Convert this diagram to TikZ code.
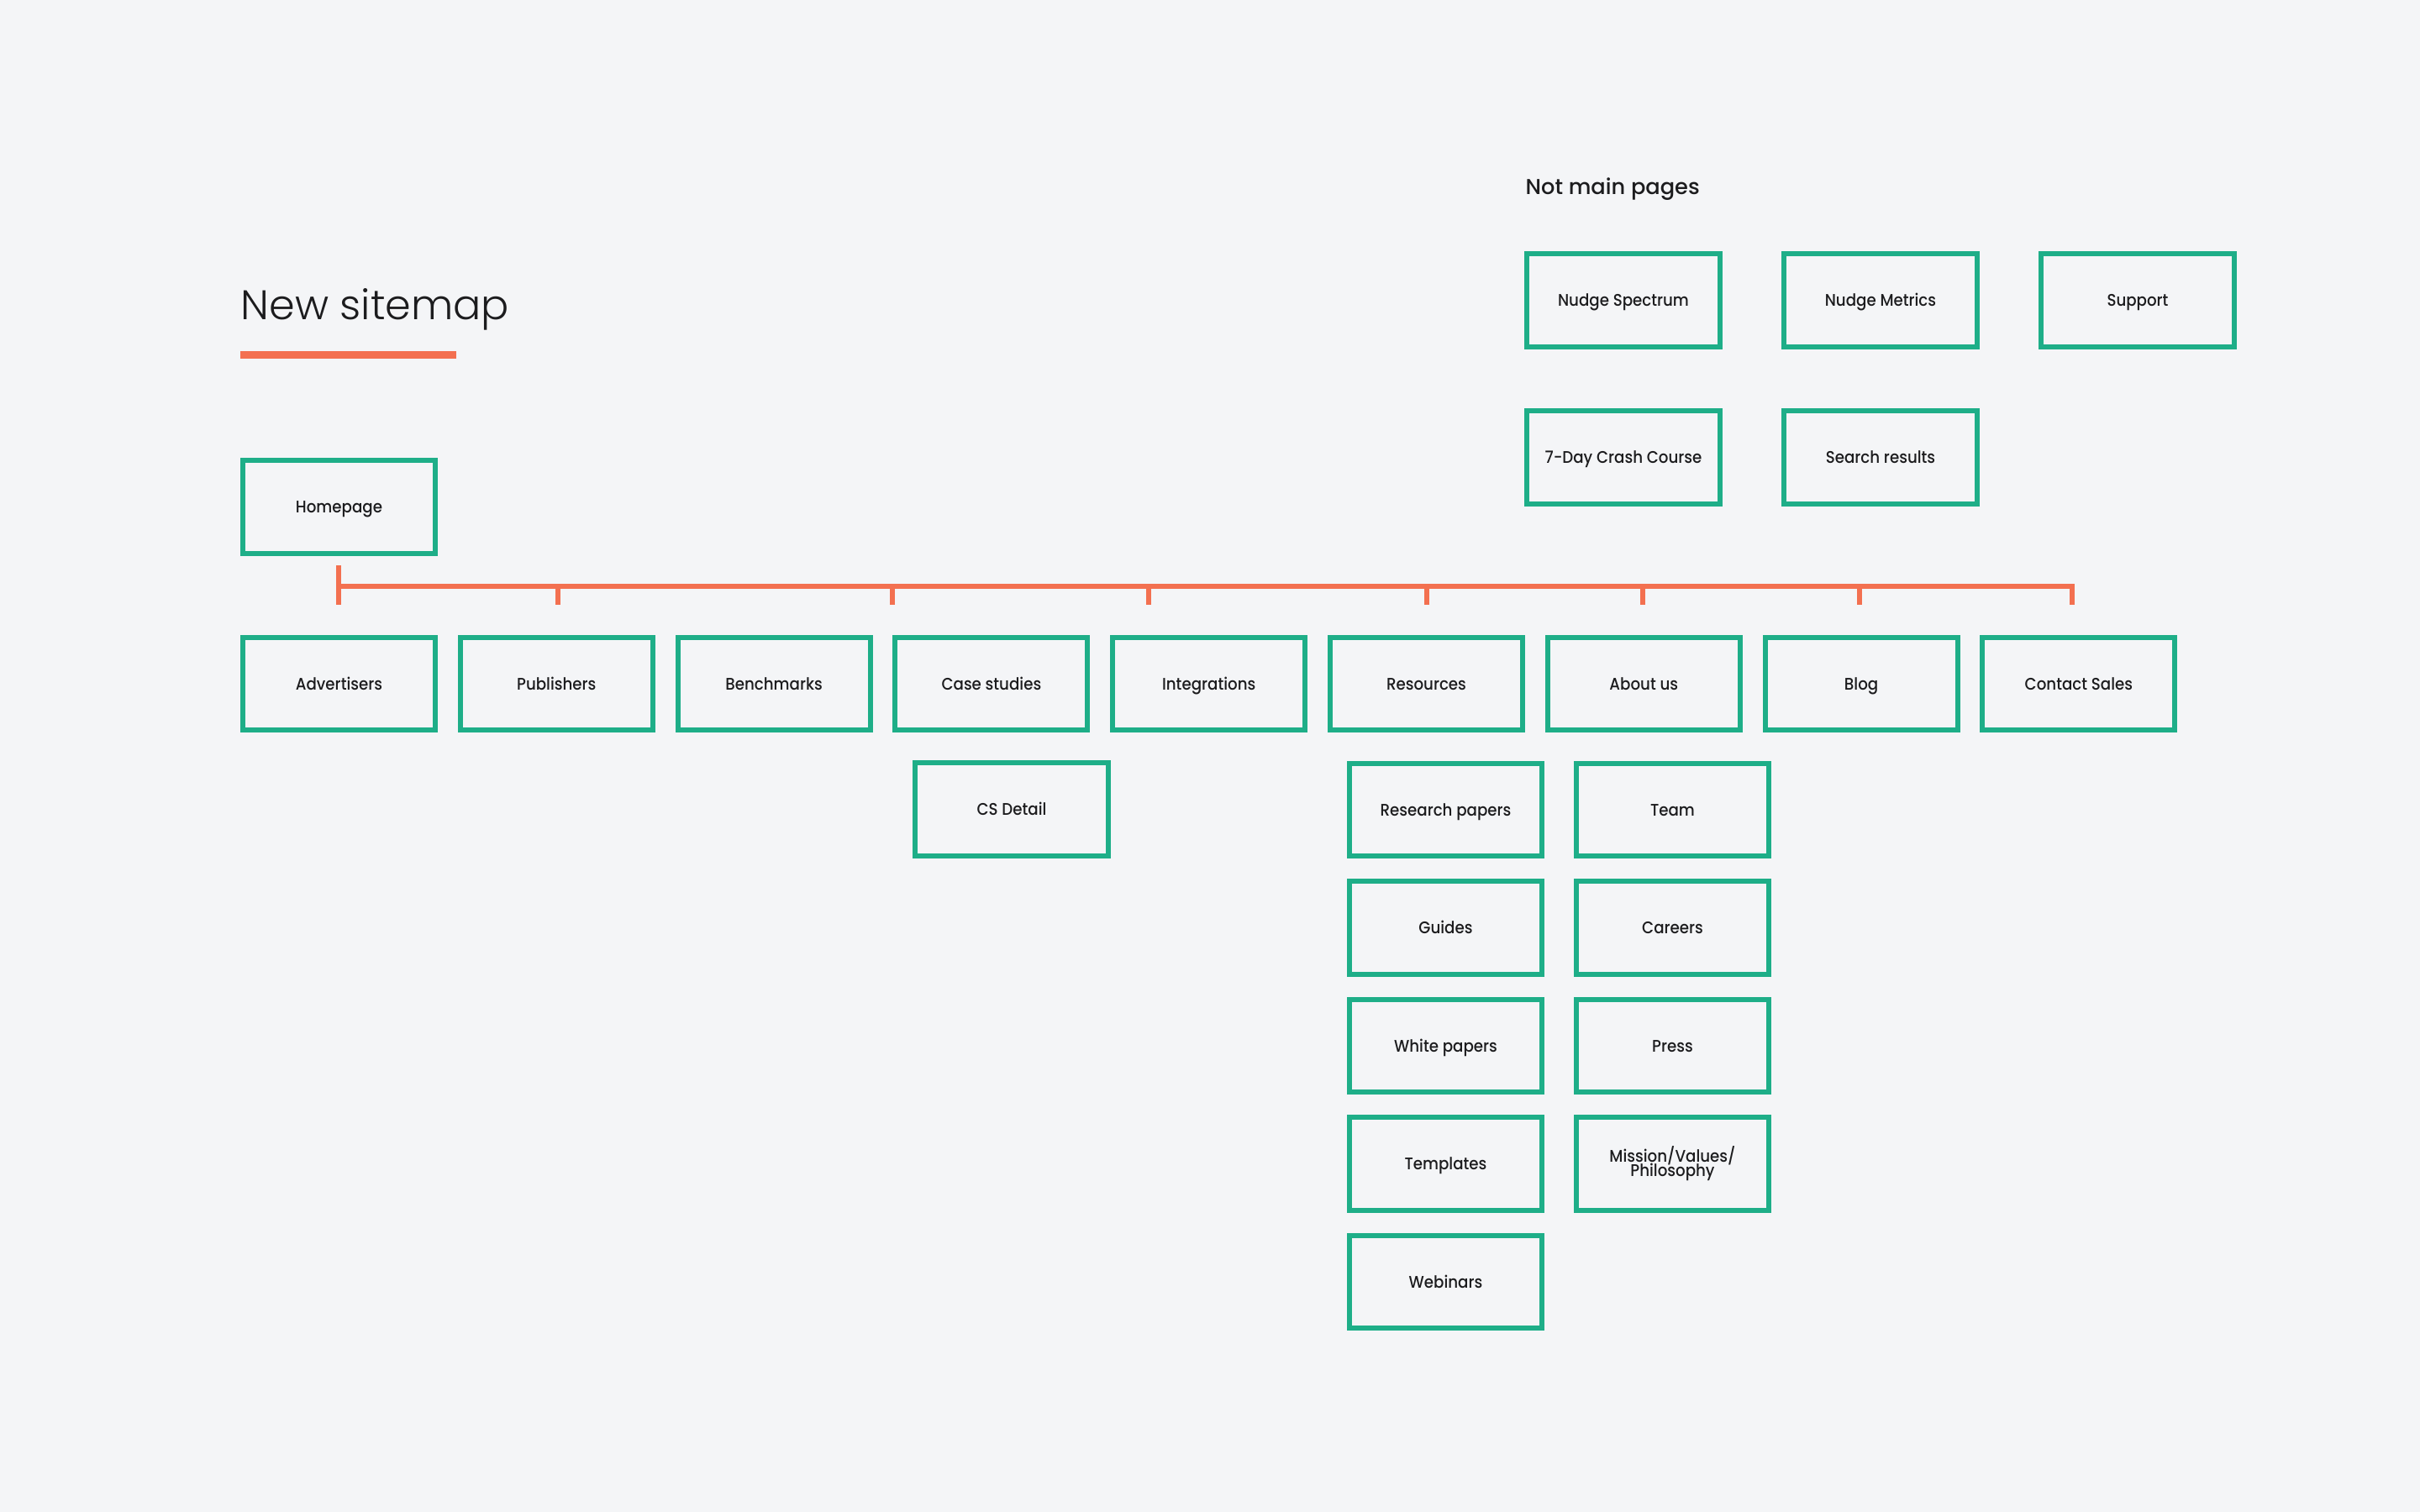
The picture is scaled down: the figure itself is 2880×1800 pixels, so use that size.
\documentclass[tikz,border=0pt]{standalone}
\usepackage{fontspec}
\setmainfont{Poppins}[UprightFont=* Medium]
\newfontfamily\titlefont{Poppins}[UprightFont=* Light]
\newfontfamily\boxfont{Poppins}[UprightFont=* Medium, FakeStretch=0.91]
\definecolor{sitegreen}{RGB}{30,174,136}
\definecolor{siteorange}{RGB}{243,112,80}
\definecolor{bgcol}{RGB}{244,245,247}
\definecolor{ink}{RGB}{28,28,30}
\lineskiplimit=-5pt
\begin{document}
\begin{tikzpicture}[x=0.01cm,y=-0.01cm,
  page/.style={draw=sitegreen, line width=1.7pt, fill=bgcol, text=ink,
    minimum width=2.29cm, minimum height=1.10cm, inner sep=0pt, align=center,
    font=\boxfont\fontsize{5.7}{4.85}\selectfont},
  oneline/.style={page, text height=4pt, text depth=0pt},
  bar/.style={draw=siteorange, line width=1.7pt}]
\fill[bgcol] (0,0) rectangle (2880,1800);
% headings
\node[anchor=base west, inner sep=0pt, text=ink,
  font=\titlefont\fontsize{14}{16}\selectfont] (title) at (286,380) {New sitemap};
\fill[siteorange] (286,418) rectangle (543,427);
\node[anchor=base west, inner sep=0pt, text=ink,
  font=\fontsize{7.3}{8}\selectfont] (other) at (1815,231.7) {Not main pages};
% not main pages
\node[oneline] (spectrum) at (1932,357.5) {Nudge Spectrum};
\node[oneline] (metrics) at (2238,357.5) {Nudge Metrics};
\node[oneline] (support) at (2544,357.5) {Support};
\node[oneline] (crash) at (1932,544.5) {7-Day Crash Course};
\node[oneline] (search) at (2238,544.5) {Search results};
% main tree
\node[oneline] (home) at (403.5,603.5) {Homepage};
\node[oneline] (adv) at (403.5,814) {Advertisers};
\node[oneline] (pub) at (662.3,814) {Publishers};
\node[oneline] (bench) at (921.1,814) {Benchmarks};
\node[oneline] (cases) at (1179.9,814) {Case studies};
\node[oneline] (integ) at (1438.7,814) {Integrations};
\node[oneline] (res) at (1697.5,814) {Resources};
\node[oneline] (about) at (1956.3,814) {About us};
\node[oneline] (blog) at (2215.1,814) {Blog};
\node[oneline] (sales) at (2473.9,814) {Contact Sales};
\node[oneline] (csdetail) at (1204,963.5) {CS Detail};
\node[oneline] (research) at (1720.5,964) {Research papers};
\node[oneline] (guides) at (1720.5,1104.5) {Guides};
\node[oneline] (white) at (1720.5,1245) {White papers};
\node[oneline] (templates) at (1720.5,1385.5) {Templates};
\node[oneline] (webinars) at (1720.5,1526) {Webinars};
\node[oneline] (team) at (1990.5,964) {Team};
\node[oneline] (careers) at (1990.5,1104.5) {Careers};
\node[oneline] (press) at (1990.5,1245) {Press};
\node[page] (mission) at (1990.5,1385.5) {Mission/Values/\\Philosophy};
% bracket
\coordinate (stem) at (402.6,673);
\coordinate (barL) at (402.6,698);
\foreach \x [count=\i] in {402.6,663.8,1061.7,1367,1698,1954.6,2213,2465.7}
  \coordinate (tick\i) at (\x,720);
\draw[bar] (stem) -- (tick1);
\draw[bar] (barL) -| (tick8);
\foreach \i in {2,...,7}
  \draw[bar] (tick\i |- barL) -- (tick\i);
\end{tikzpicture}
\end{document}
